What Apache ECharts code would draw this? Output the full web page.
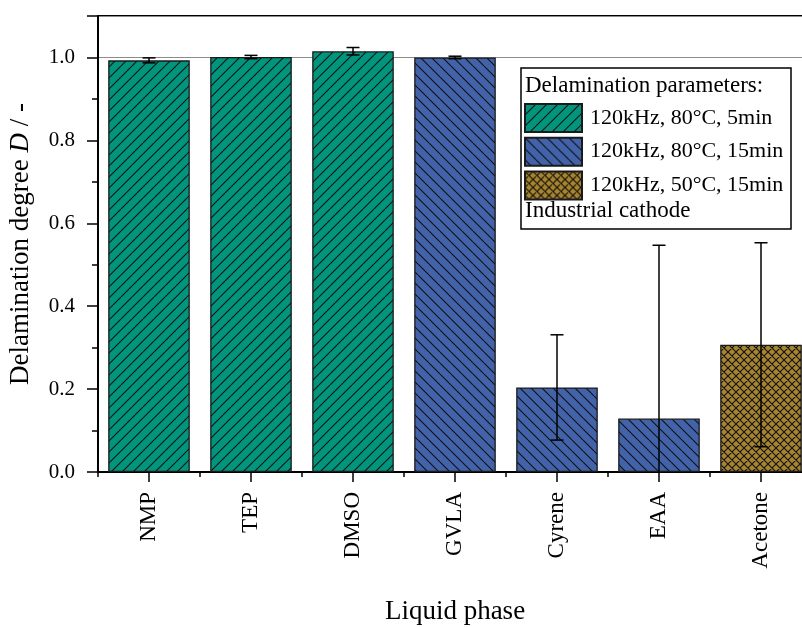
<!DOCTYPE html>
<html><head><meta charset="utf-8">
<script src="https://cdn.jsdelivr.net/npm/echarts@6/dist/echarts.min.js"></script>
<style>html,body{margin:0;padding:0;background:#fff;overflow:hidden}#c{width:802px;height:627px}</style>
</head><body><div id="c"></div>
<script>
const categories = ['NMP', 'TEP', 'DMSO', 'GVLA', 'Cyrene', 'EAA', 'Acetone'];
const seriesNames = ['120kHz, 80°C, 5min', '120kHz, 80°C, 15min', '120kHz, 50°C, 15min'];
const values5min80 = [0.993, 1.001, 1.015, null, null, null, null];
const values15min80 = [null, null, null, 1.000, 0.204, 0.129, null];
const values15min50 = [null, null, null, null, null, null, 0.307];
const errors = [0.006, 0.004, 0.009, 0.003, 0.127, 0.418, 0.246];
const yTicks = [0, 0.2, 0.4, 0.6, 0.8, 1.0];

const FONT = '"Liberation Serif", "Times New Roman", serif';

function hatch(bg, type, size) {
  const c = document.createElement('canvas');
  c.width = size; c.height = size;
  const g = c.getContext('2d');
  g.fillStyle = bg; g.fillRect(0, 0, size, size);
  g.strokeStyle = '#111'; g.lineWidth = 1.1;
  g.beginPath();
  for (let k = -1; k <= 1; k++) {
    if (type === '/' || type === 'x') { g.moveTo(k * size, size); g.lineTo(k * size + size, 0); }
    if (type === '\\' || type === 'x') { g.moveTo(k * size, 0); g.lineTo(k * size + size, size); }
  }
  g.stroke();
  return { image: c, repeat: 'repeat' };
}

const colors = [hatch('#00957c', '/', 11), hatch('#4262aa', '\\', 11), hatch('#a7842f', 'x', 8)];
const groups = [values5min80, values15min80, values15min50];
const combined = categories.map((_, i) => {
  for (const g of groups) if (g[i] != null) return g[i];
  return null;
});
const errData = categories.map((_, i) => [i, combined[i], errors[i]]);

const chart = echarts.init(document.getElementById('c'), null, { renderer: 'canvas', width: 802, height: 627 });

const barSeries = groups.map((g, k) => ({
  type: 'bar',
  name: seriesNames[k],
  data: g,
  barWidth: '80%',
  barGap: '-100%',
  itemStyle: { color: colors[k], borderColor: '#1a1a1a', borderWidth: 1.3 },
  z: 3
}));

chart.setOption({
  backgroundColor: '#fff',
  animation: false,
  textStyle: { fontFamily: FONT },
  grid: { left: 98, top: 16, width: 714, bottom: 155, show: true, borderColor: '#000', borderWidth: 2, backgroundColor: 'transparent', outerBoundsMode: 'none', containLabel: false },
  legend: {
    orient: 'vertical', left: 524, top: 103, padding: 0,
    itemWidth: 57, itemHeight: 28, itemGap: 3.7,
    icon: 'rect',
    textStyle: { fontFamily: FONT, fontSize: 22, lineHeight: 28, color: '#000', padding: [0, 0, 0, 3] },
    data: seriesNames,
    z: 10
  },
  graphic: [
    { type: 'rect', z: 5, shape: { x: 521, y: 68, width: 270, height: 161 }, style: { fill: '#fff', stroke: '#000', lineWidth: 1.5 } },
    { type: 'text', z: 6, left: 525, top: 74, style: { text: 'Delamination parameters:', font: '23px ' + FONT, fill: '#000' } },
    { type: 'text', z: 6, left: 525, top: 199, style: { text: 'Industrial cathode', font: '23px ' + FONT, fill: '#000' } }
  ],
  xAxis: [
    {
      type: 'category', data: categories, position: 'bottom',
      axisLine: { show: true, lineStyle: { color: '#000', width: 2 } },
      axisTick: { show: true, alignWithLabel: true, length: 10, lineStyle: { color: '#000', width: 1.5 } },
      axisLabel: { rotate: 90, margin: 20, fontSize: 23, fontFamily: FONT, color: '#000' },
      name: 'Liquid phase', nameLocation: 'middle', nameGap: 126,
      nameTextStyle: { fontSize: 27, fontFamily: FONT, color: '#000' }
    },
    {
      type: 'category', data: categories, position: 'bottom',
      axisLine: { show: false },
      axisTick: { show: true, length: 5, lineStyle: { color: '#000', width: 1.5 } },
      axisLabel: { show: false }, splitLine: { show: false }
    }
  ],
  yAxis: [
    {
      type: 'value', min: 0, max: 1.1, interval: 0.2,
      axisLine: { show: true, lineStyle: { color: '#000', width: 2 } },
      axisTick: { show: true, length: 11, lineStyle: { color: '#000', width: 1.5 } },
      minorTick: { show: true, splitNumber: 2, length: 6, lineStyle: { color: '#000', width: 1.5 } },
      splitLine: { show: false },
      axisLabel: {
        margin: 23, fontSize: 21, fontFamily: FONT, color: '#000',
        showMaxLabel: false,
        formatter: v => yTicks.some(t => Math.abs(t - v) < 1e-9) ? v.toFixed(1) : ''
      },
      name: '{a|Delamination degree }{b|D}{a| / -}', nameLocation: 'middle', nameGap: 64, nameRotate: 90,
      nameTextStyle: { rich: { a: { fontSize: 27, fontFamily: FONT, color: '#000' }, b: { fontSize: 27, fontFamily: FONT, fontStyle: 'italic', color: '#000' } } }
    },
    {
      type: 'value', min: 0, max: 1.1, interval: 1.0,
      axisLine: { show: false }, axisTick: { show: false }, axisLabel: { show: false },
      splitLine: { show: true, lineStyle: { color: '#8c8c8c', width: 1.2 } }
    }
  ],
  series: barSeries.concat([
    {
      type: 'custom', name: 'err', z: 8,
      data: errData,
      renderItem: function (params, api) {
        const i = api.value(0), v = api.value(1), e = api.value(2);
        const lo = Math.max(v - e, 0);
        const top = api.coord([i, v + e]);
        const bot = api.coord([i, lo]);
        const cap = 6.5;
        const st = { stroke: '#000', lineWidth: 1.5 };
        const ch = [
          { type: 'line', shape: { x1: top[0], y1: top[1], x2: bot[0], y2: bot[1] }, style: st },
          { type: 'line', shape: { x1: top[0] - cap, y1: top[1], x2: top[0] + cap, y2: top[1] }, style: st }
        ];
        if (v - e >= 0) ch.push({ type: 'line', shape: { x1: bot[0] - cap, y1: bot[1], x2: bot[0] + cap, y2: bot[1] }, style: st });
        return { type: 'group', children: ch };
      }
    }
  ])
});
</script></body></html>
